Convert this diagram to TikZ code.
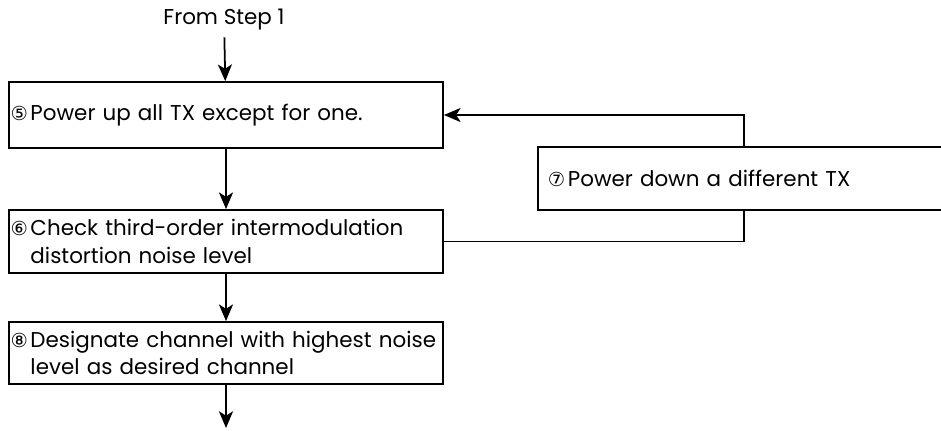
\documentclass[tikz,border=0pt]{standalone}
\usepackage{fontspec}
\setmainfont{Poppins}
\newfontfamily\circfont{DejaVu Sans}
\usetikzlibrary{arrows.meta}

\newcommand{\stepno}[1]{\makebox[0.40cm][l]{\circfont\fontsize{11}{10}\selectfont #1}}

\begin{document}
\begin{tikzpicture}[>={Stealth[length=9.5pt,width=8pt,inset=2.5pt]}, line width=1pt,
  font=\fontsize{12.2}{15.5}\selectfont,
  stepbox/.style={draw, rectangle, align=left, text width=8.62cm, inner xsep=0.03cm}]
  \useasboundingbox (0,0) rectangle (18.82,-8.6);
  \clip (0,0) rectangle (18.82,-8.6);

  \node (start) at (4.48,-0.40) {From Step 1};
  \node[stepbox, minimum height=1.32cm] (s5) at (4.52,-2.30)
    {\stepno{⑤}Power up all TX except for one.};
  \node[stepbox, minimum height=1.26cm] (s6) at (4.52,-4.83)
    {\stepno{⑥}Check third-order intermodulation\\\hspace*{0.40cm}distortion noise level};
  \node[stepbox, minimum height=1.24cm] (s8) at (4.52,-7.06)
    {\stepno{⑧}Designate channel with highest noise\\\hspace*{0.40cm}level as desired channel};
  \node[stepbox, anchor=west, text width=9.5cm, inner xsep=0.2cm, minimum height=1.26cm] (s7) at (10.74,-3.57)
    {\stepno{⑦}Power down a different TX};
  \coordinate (out) at (4.52,-8.56);

  \draw[->] (start) -- (s5);
  \draw[->] (s5) -- (s6);
  \draw[->] (s6) -- (s8);
  \draw[->] (s8) -- (out);
  % loop back through step 7
  \draw (s6.east) -| ([xshift=4.14cm]s7.south west);
  \draw[->] ([xshift=4.14cm]s7.north west) |- (s5.east);
\end{tikzpicture}
\end{document}
